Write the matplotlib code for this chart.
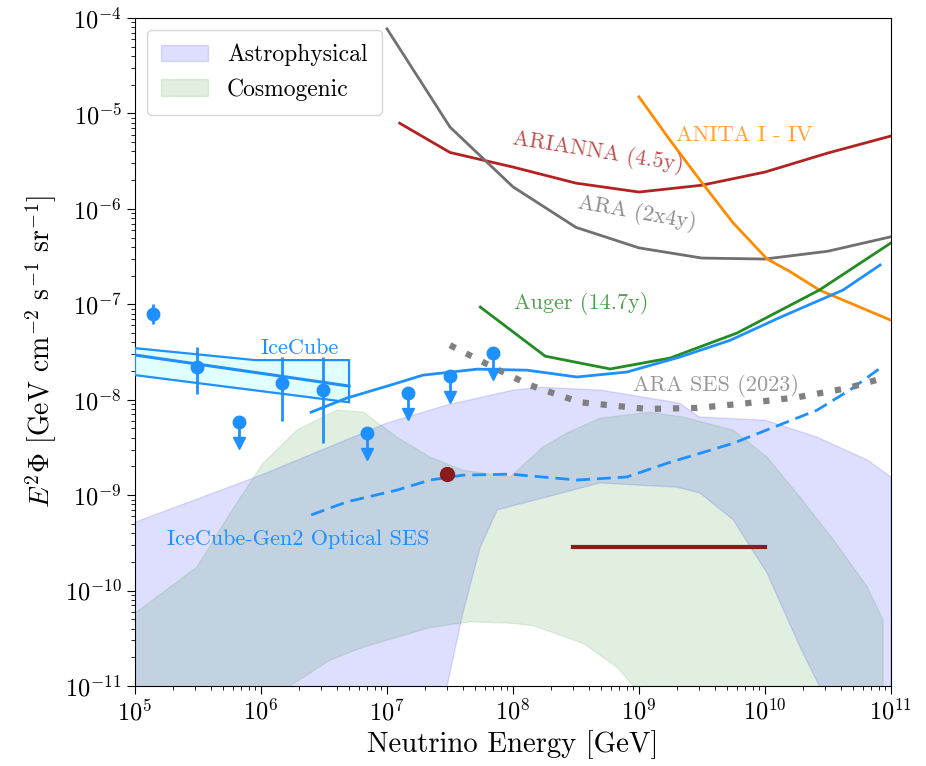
import numpy as np
import matplotlib
matplotlib.use("Agg")
import matplotlib.pyplot as plt
from matplotlib.patches import Patch
from matplotlib.ticker import FixedLocator, LogLocator, NullFormatter, LogFormatterSciNotation

plt.rcParams.update({
    "font.family": "serif",
    "font.serif": ["cmr10"],
    "mathtext.fontset": "cm",
    "axes.formatter.use_mathtext": True,
    "axes.unicode_minus": False,
})

# ---- axis decades ----
x_decades = [1e5, 1e6, 1e7, 1e8, 1e9, 1e10, 1e11]
y_decades = [1e-11, 1e-10, 1e-9, 1e-8, 1e-7, 1e-6, 1e-5, 1e-4]

# ---- diffuse flux model bands ----
astro_upper_E = [1e5, 1e6, 1e7, 3e7, 1e8, 1.7e8, 5e8, 2.1e9, 3e9, 1e10, 2.6e10, 6.5e10, 1e11]
astro_upper_F = [5.2e-10, 1.62e-9, 5.7e-9, 8.8e-9, 1.26e-8, 1.35e-8, 1.26e-8, 9.2e-9, 6.6e-9,
                 6.1e-9, 4.05e-9, 2.33e-9, 1.55e-9]
astro_lower_E = [1e5, 2.6e7, 3.0e7, 4.0e7, 5.5e7, 7.5e7, 4.9e8, 2.0e9, 3.05e9, 5.6e9, 1.04e10,
                 1.9e10, 2.7e10, 1e11]
astro_lower_F = [1e-12, 1e-12, 1e-11, 5.8e-11, 2.85e-10, 7.0e-10, 1.34e-9, 1.21e-9, 1.05e-9,
                 5.5e-10, 1.52e-10, 2.55e-11, 1e-11, 1e-12]

cosmo_upper_E = [1e5, 1.9e5, 3.1e5, 5.7e5, 1.04e6, 1.93e6, 4.0e6, 6.5e6, 1.2e7, 2.2e7, 4.0e7,
                 9.5e7, 1.73e8, 2.7e8, 4.9e8, 1.22e9, 2.23e9, 5.6e9, 1.04e10, 1.9e10, 3.5e10,
                 6.5e10, 8.65e10, 8.65e10]
cosmo_upper_F = [5.8e-11, 1.09e-10, 1.76e-10, 6.5e-10, 2.16e-9, 4.8e-9, 7.8e-9, 7.4e-9, 4.05e-9,
                 2.5e-9, 1.83e-9, 1.55e-9, 3.2e-9, 4.5e-9, 6.4e-9, 7.4e-9, 6.6e-9, 4.8e-9,
                 2.5e-9, 9.5e-10, 3.4e-10, 1.09e-10, 4.9e-11, 1e-12]
cosmo_lower_E = [1e5, 1.4e6, 1.7e6, 3.5e6, 6.5e6, 2.2e7, 4.6e7, 9.5e7, 1.44e8, 3.6e8, 6.7e8,
                 9e8, 1.1e9, 8.65e10]
cosmo_lower_F = [1e-12, 1e-12, 1e-11, 1.86e-11, 2.55e-11, 4.1e-11, 4.7e-11, 4.55e-11, 4.3e-11,
                 2.8e-11, 1.57e-11, 1e-11, 1e-12, 1e-12]

# ---- IceCube diffuse fit ----
ic_band_upper_E = [1e5, 9e5, 5e6]
ic_band_upper_F = [3.47e-8, 2.6e-8, 2.6e-8]
ic_band_lower_E = [1e5, 5e6]
ic_band_lower_F = [1.81e-8, 9.4e-9]
ic_fit_E = [1e5, 5e6]
ic_fit_F = [2.94e-8, 1.39e-8]

# IceCube segmented measurements
ic_pts_E = [1.39e5, 3.1e5, 1.47e6, 3.1e6]
ic_pts_F = [7.9e-8, 2.2e-8, 1.49e-8, 1.26e-8]
ic_pts_hi = [1.0e-7, 3.56e-8, 2.8e-8, 2.8e-8]
ic_pts_lo = [6.2e-8, 1.15e-8, 5.97e-9, 3.5e-9]
# IceCube upper limits
ic_ul_E = [6.7e5, 6.9e6, 1.47e7, 3.16e7, 6.9e7]
ic_ul_F = [5.8e-9, 4.47e-9, 1.17e-8, 1.77e-8, 3.08e-8]
ul_arrow_factor = 0.6

# ---- experiment sensitivities / limits ----
arianna_E = [1.26e7, 3.16e7, 1e8, 3.16e8, 1e9, 3.16e9, 1e10, 3.16e10, 1e11]
arianna_F = [7.9e-6, 3.9e-6, 2.74e-6, 1.86e-6, 1.5e-6, 1.77e-6, 2.43e-6, 3.85e-6, 5.8e-6]

ara_E = [1e7, 3.16e7, 1e8, 3.16e8, 1e9, 3.16e9, 1e10, 3.16e10, 1e11]
ara_F = [7.7e-5, 7.2e-6, 1.7e-6, 6.4e-7, 3.9e-7, 3.05e-7, 2.98e-7, 3.6e-7, 5.1e-7]

anita_E = [1e9, 1.76e9, 3.05e9, 5.6e9, 1.04e10, 1.58e10, 2.7e10, 1e11]
anita_F = [1.49e-5, 5.26e-6, 2.0e-6, 7.1e-7, 2.98e-7, 2.2e-7, 1.41e-7, 6.8e-8]

auger_E = [5.5e7, 1.8e8, 5.9e8, 1.76e9, 6.0e9, 2.7e10, 1e11]
auger_F = [9.35e-8, 2.86e-8, 2.1e-8, 2.73e-8, 5.0e-8, 1.41e-7, 4.4e-7]

gen2_radio_E = [2.5e6, 4.8e6, 1.06e7, 1.93e7, 5.2e7, 1.29e8, 3.22e8, 8.0e8, 2.11e9, 5.3e9,
                1.32e10, 4.16e10, 8.2e10]
gen2_radio_F = [7.4e-9, 1.04e-8, 1.42e-8, 1.81e-8, 2.09e-8, 2.04e-8, 1.73e-8, 1.95e-8, 2.8e-8,
                4.2e-8, 7.3e-8, 1.41e-7, 2.58e-7]

gen2_optical_E = [2.5e6, 4.8e6, 1.2e7, 2.2e7, 4.0e7, 9.5e7, 3.22e8, 8.0e8, 1.67e9, 5.6e9,
                  2.6e10, 4.7e10, 8.2e10]
gen2_optical_F = [6.2e-10, 8.5e-10, 1.13e-9, 1.44e-9, 1.62e-9, 1.66e-9, 1.44e-9, 1.55e-9,
                  2.16e-9, 3.5e-9, 7.8e-9, 1.26e-8, 2.14e-8]

ara_ses_E = [3.16e7, 6.9e7, 1.36e8, 3.4e8, 1.16e9, 2.9e9, 7.2e9, 1.8e10, 4.5e10, 9.3e10]
ara_ses_F = [3.73e-8, 2.2e-8, 1.42e-8, 9.4e-9, 8.0e-9, 8.2e-9, 9.2e-9, 1.06e-8, 1.32e-8, 1.73e-8]

# single event and energy-range markers
gen2_point_E = [3.0e7]
gen2_point_F = [1.65e-9]
range_E = [3e8, 1e10]
range_F = [2.85e-10, 2.85e-10]

# ---- figure ----
fig = plt.figure(figsize=(9.26, 7.66), dpi=100)
ax = fig.add_axes([135 / 926, 1 - 686 / 766, (891 - 135) / 926, (686 - 18) / 766])
ax.set_xscale("log")
ax.set_yscale("log")
ax.set_xlim(x_decades[0], x_decades[-1])
ax.set_ylim(y_decades[0], y_decades[-1])

blue_c = "#1e90ff"
astro_col = (0.0, 0.0, 1.0)
cosmo_col = (0.0, 0.5, 0.0)

ax.fill(astro_upper_E + astro_lower_E[::-1], astro_upper_F + astro_lower_F[::-1],
        facecolor=astro_col + (0.13,), edgecolor=astro_col + (0.12,), lw=1.0, zorder=1)
ax.fill(cosmo_upper_E + cosmo_lower_E[::-1], cosmo_upper_F + cosmo_lower_F[::-1],
        facecolor=cosmo_col + (0.12,), edgecolor=cosmo_col + (0.10,), lw=1.0, zorder=1)

# IceCube band and fit
ax.fill(ic_band_upper_E + ic_band_lower_E[::-1], ic_band_upper_F + ic_band_lower_F[::-1],
        facecolor="#e0ffff", edgecolor=blue_c, lw=1.6, zorder=3)
ax.plot(ic_fit_E, ic_fit_F, color=blue_c, lw=2.2, zorder=4)

# data points with errors
yerr = [np.array(ic_pts_F) - np.array(ic_pts_lo), np.array(ic_pts_hi) - np.array(ic_pts_F)]
ax.errorbar(ic_pts_E, ic_pts_F, yerr=yerr, fmt="o", color=blue_c, ms=9, elinewidth=2,
            capsize=0, zorder=6)
ul_F = np.array(ic_ul_F)
ax.errorbar(ic_ul_E, ul_F, yerr=[ul_F * (1 - ul_arrow_factor), np.zeros_like(ul_F)], fmt="o",
            color=blue_c, ms=9, elinewidth=2, capsize=0, zorder=6)
ax.plot(ic_ul_E, ul_F * ul_arrow_factor, "v", color=blue_c, ms=9, zorder=6)

# sensitivity / limit curves
ax.plot(arianna_E, arianna_F, color="#b22222", lw=2, zorder=5)
ax.plot(ara_E, ara_F, color="#707070", lw=2, zorder=5)
ax.plot(anita_E, anita_F, color="#ff8c00", lw=2, zorder=5)
ax.plot(auger_E, auger_F, color="#228b22", lw=2, zorder=5)
ax.plot(gen2_radio_E, gen2_radio_F, color=blue_c, lw=2, zorder=5)
ax.plot(gen2_optical_E, gen2_optical_F, color=blue_c, lw=2, ls=(0, (5, 2.5)), zorder=5)
ax.plot(ara_ses_E, ara_ses_F, color="#808080", lw=4.5, ls=(0, (1, 1.9)), zorder=5)
ax.plot(gen2_point_E, gen2_point_F, "o", color="#8b1a1a", ms=10, zorder=7)
ax.plot(range_E, range_F, color="#8b1a1a", lw=3, zorder=5)

# labels on curves
lab_fs = 16
ax.text(2.04e6, 3.5e-8, "IceCube", color=blue_c, fontsize=lab_fs, ha="center", va="center",
        zorder=8)
ax.text(1.97e6, 3.46e-10, "IceCube-Gen2 Optical SES", color=blue_c, fontsize=lab_fs,
        ha="center", va="center", zorder=8)
ax.text(4.7e8, 3.94e-6, "ARIANNA (4.5y)", color="#b22222", alpha=0.8, fontsize=lab_fs,
        rotation=-9, ha="center", va="center", zorder=8)
ax.text(9.6e8, 9.0e-7, "ARA (2x4y)", color="#808080", alpha=0.9, fontsize=lab_fs,
        rotation=-10, ha="center", va="center", zorder=8)
ax.text(6.8e9, 5.94e-6, "ANITA I - IV", color="#ff8c00", alpha=0.8, fontsize=lab_fs,
        ha="center", va="center", zorder=8)
ax.text(3.5e8, 1.03e-7, "Auger (14.7y)", color="#228b22", alpha=0.8, fontsize=lab_fs,
        ha="center", va="center", zorder=8)
ax.text(4.08e9, 1.42e-8, "ARA SES (2023)", color="#808080", alpha=0.8, fontsize=lab_fs,
        ha="center", va="center", zorder=8)

handles = [Patch(facecolor=astro_col + (0.13,), edgecolor=astro_col + (0.12,), label="Astrophysical"),
           Patch(facecolor=cosmo_col + (0.12,), edgecolor=cosmo_col + (0.10,), label="Cosmogenic")]
ax.legend(handles=handles, loc="upper left", fontsize=17, frameon=True, borderpad=0.6)

ax.set_xlabel("Neutrino Energy [GeV]", fontsize=20.7)
ax.set_ylabel(r"$E^2\Phi$ [GeV cm$^{-2}$ s$^{-1}$ sr$^{-1}$]", fontsize=20)
ax.tick_params(axis="both", which="major", labelsize=17.5, length=6)
ax.tick_params(axis="both", which="minor", length=3)

# only in-range decades carry labels
ax.xaxis.set_major_locator(FixedLocator(x_decades))
ax.yaxis.set_major_locator(FixedLocator(y_decades))
ax.xaxis.set_major_formatter(LogFormatterSciNotation())
ax.yaxis.set_major_formatter(LogFormatterSciNotation())
ax.xaxis.set_minor_locator(LogLocator(base=10, subs=np.arange(2, 10), numticks=20))
ax.yaxis.set_minor_locator(LogLocator(base=10, subs=np.arange(2, 10), numticks=20))
ax.xaxis.set_minor_formatter(NullFormatter())
ax.yaxis.set_minor_formatter(NullFormatter())

fig.savefig("out.png", dpi=100)
